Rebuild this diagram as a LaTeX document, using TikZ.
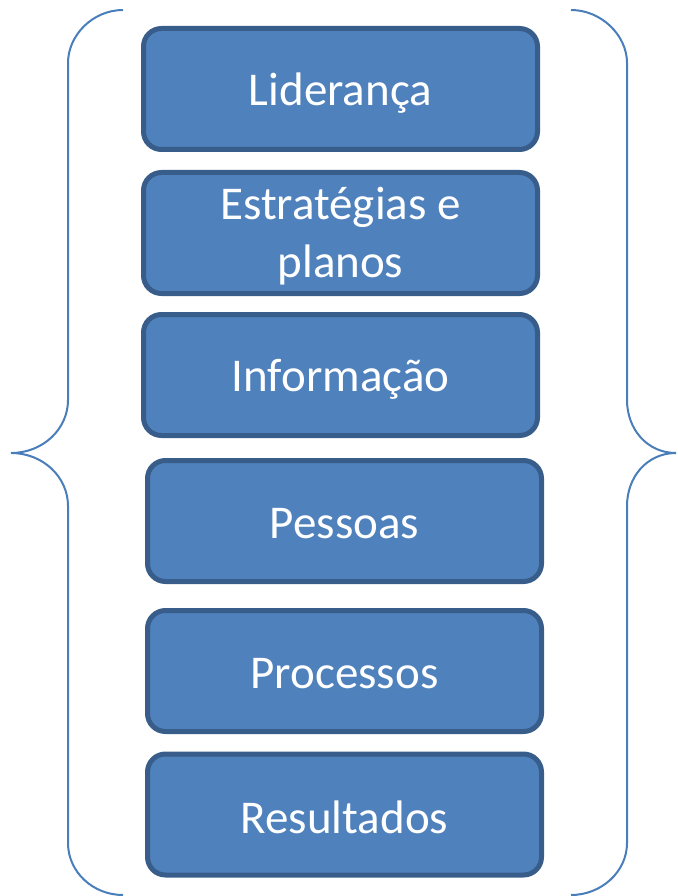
\documentclass[tikz,border=0pt]{standalone}
\usepackage{fontspec}
\setmainfont{Carlito}
\definecolor{boxfill}{HTML}{4F81BD}
\definecolor{boxline}{HTML}{385D8A}
\definecolor{bracecol}{HTML}{4A7EBB}
\begin{document}
\begin{tikzpicture}[x=1pt,y=-1pt,
  stepbox/.style={draw=boxline, fill=boxfill, line width=5pt, rounded corners=18pt,
    minimum width=394pt, minimum height=121pt, inner sep=0pt},
  steptext/.style={inner sep=0pt, text=white, align=center,
    font=\fontsize{47pt}{58pt}\selectfont},
  bracestyle/.style={draw=bracecol, line width=2pt}]
\useasboundingbox (0,0) rectangle (677,896);
\node[stepbox] (lid) at (340.5,89) {};
\node[stepbox] (est) at (340.5,233) {};
\node[stepbox] (inf) at (340.5,375) {};
\node[stepbox] (pes) at (344.5,521) {};
\node[stepbox] (pro) at (344.5,671) {};
\node[stepbox] (res) at (344.5,814.5) {};
\node[steptext] (lidt) at ([yshift=-4pt]lid.center) {Liderança};
\node[steptext] (estt) at ([yshift=-3pt]est.center) {Estratégias e\\planos};
\node[steptext] (inft) at ([yshift=-4pt]inf.center) {Informação};
\node[steptext] (pest) at ([yshift=-3pt]pes.center) {Pessoas};
\node[steptext] (prot) at ([yshift=-3pt]pro.center) {Processos};
\node[steptext] (rest) at ([yshift=-3pt]res.center) {Resultados};
\draw[bracestyle] (123,10) .. controls (93,10) and (68,35) .. (68,63) -- (68,400)
  .. controls (68,429) and (43,453) .. (11,453)
  .. controls (43,453) and (68,477) .. (68,506) -- (68,843)
  .. controls (68,872) and (93,895) .. (123,895);
\draw[bracestyle] (571,10) .. controls (601,10) and (627,35) .. (627,63) -- (627,400)
  .. controls (627,429) and (647,453) .. (676,453)
  .. controls (647,453) and (627,477) .. (627,506) -- (627,843)
  .. controls (627,872) and (601,895) .. (571,895);
\end{tikzpicture}
\end{document}
